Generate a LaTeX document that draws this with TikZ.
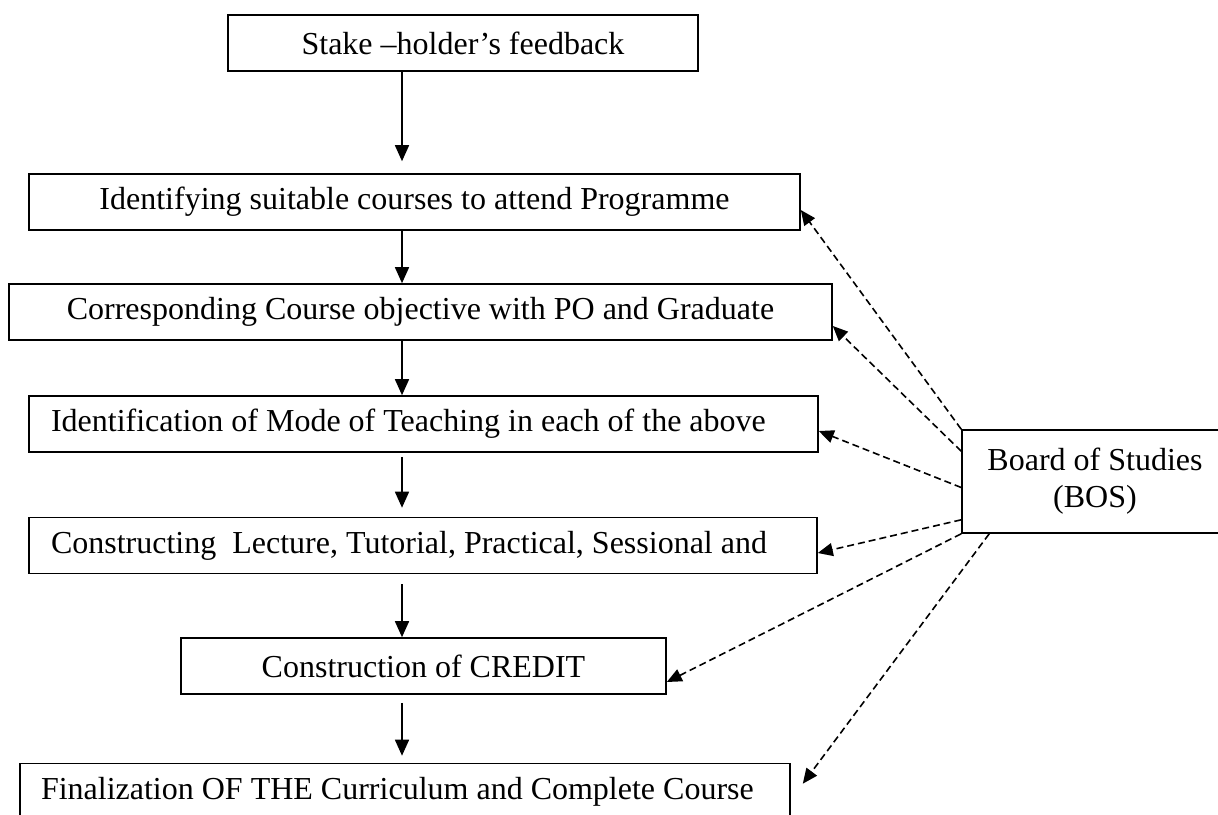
\documentclass[tikz,border=0pt]{standalone}
\usepackage{fontspec}
\setmainfont{Liberation Serif}
\usetikzlibrary{arrows.meta}

\begin{document}
\begin{tikzpicture}[x=1pt,y=-1pt,
    box/.style={draw,line width=1.6pt,minimum height=56pt,inner sep=0pt,font=\fontsize{32}{37}\selectfont},
    lbox/.style={box,text width=#1,align=flush left,inner xsep=22pt},
    flow/.style={line width=1.6pt,-{Triangle[length=16pt,width=14pt]}},
    bosline/.style={line width=1.6pt,dash pattern=on 7pt off 4pt,-{Triangle[length=15pt,width=13pt]}}]
    \useasboundingbox (0,0) rectangle (1218,814);
    \clip (0,0) rectangle (1218,814);

    \node[box,minimum width=470pt] (stake) at (463,43) {Stake –holder’s feedback};
    \node[box,minimum width=771pt] (ident) at (414.5,202) {Identifying suitable courses to attend Programme};
    \node[box,minimum width=823pt] (corr) at (420.5,312) {Corresponding Course objective with PO and Graduate};
    \node[lbox=745pt] (mode) at (423.5,424) {Identification of Mode of Teaching in each of the above};
    \node[lbox=744pt] (constr) at (423,545.5) {Constructing\ \ Lecture, Tutorial, Practical, Sessional and};
    \node[box,minimum width=485pt] (credit) at (423.5,666) {Construction of CREDIT};
    \node[lbox=728pt,inner xsep=21pt] (final) at (405,791.5) {Finalization OF THE Curriculum and Complete Course};
    \node[box,minimum width=266pt,minimum height=103pt,align=center] (bos) at (1095,481.5) {Board of Studies\\(BOS)};

    \coordinate (ax) at (402,0);
    \foreach \a/\b/\s/\e in {stake/ident/0pt/12pt,ident/corr/0pt/0pt,corr/mode/0pt/0pt,mode/constr/4pt/9pt,constr/credit/10pt/0pt,credit/final/8pt/7pt}{
      \draw[flow,shorten <=\s,shorten >=\e] (\a.south -| ax) -- (\b.north -| ax);
       }

    \draw[bosline] (bos.north west) -- ([yshift=-8pt]ident.east);
    \draw[bosline] ([yshift=-22pt]bos.north west) -- ([yshift=-14pt]corr.east);
    \draw[bosline] ([yshift=-6pt]bos.west) -- ([yshift=-7pt]mode.east);
    \draw[bosline] ([yshift=14pt]bos.south west) -- ([yshift=-7.5pt]constr.east);
    \draw[bosline] (bos.south west) -- ([yshift=-16pt]credit.east);
    \draw[bosline] ([xshift=28pt]bos.south west) -- ([xshift=12pt,yshift=-21pt]final.north east);

  \end{tikzpicture}
\end{document}
